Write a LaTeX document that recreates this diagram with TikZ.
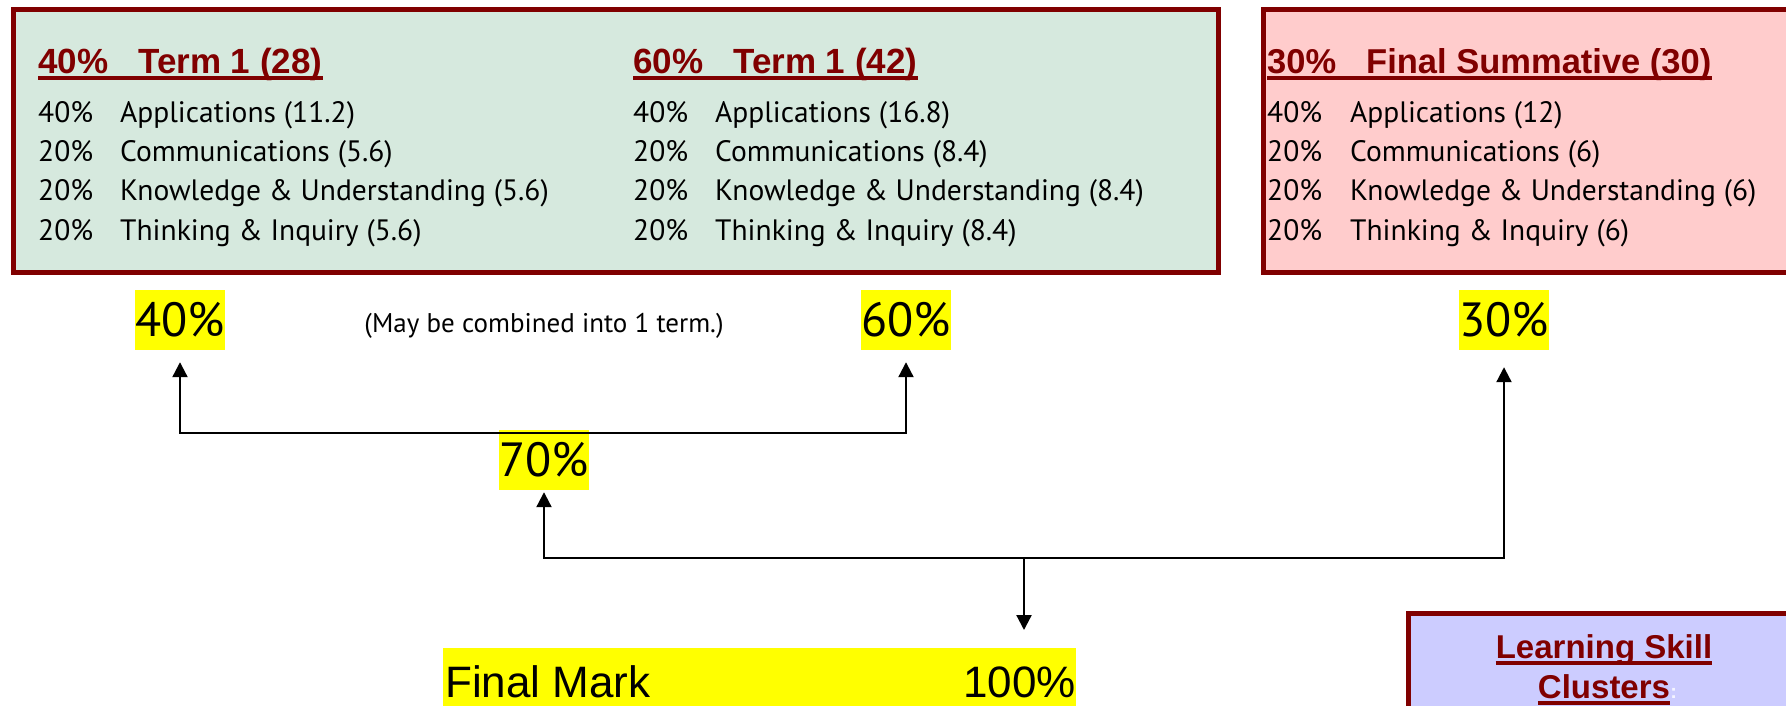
\documentclass[tikz,border=0pt]{standalone}
\usepackage{fontspec}
\setmainfont{PT Sans}
\newfontfamily\arialf{Liberation Sans}
\usetikzlibrary{arrows.meta}
\definecolor{bordred}{RGB}{128,0,0}
\definecolor{greenfill}{RGB}{214,233,222}
\definecolor{pinkfill}{RGB}{255,204,204}
\definecolor{lavfill}{RGB}{204,204,255}
\definecolor{hiyellow}{RGB}{255,255,0}
\tikzset{
  panel/.style={draw=bordred, line width=5pt, anchor=north west, inner sep=0pt},
  head/.style={font=\arialf\bfseries\fontsize{35}{40}\selectfont, text=bordred, inner sep=0pt, anchor=base west},
  uline/.style={draw=bordred, line width=4pt},
  row/.style={font=\fontsize{29.5}{34}\selectfont, inner sep=0pt, anchor=base west},
  hl/.style={fill=hiyellow, inner sep=0pt, minimum height=60pt, font=\fontsize{48}{52}\selectfont},
  conn/.style={line width=2.2pt, draw=black},
  tip/.style={-{Triangle[width=15pt,length=15pt]}},
  tips/.style={{Triangle[width=15pt,length=15pt]}-{Triangle[width=15pt,length=15pt]}}
}
\begin{document}
\begin{tikzpicture}[x=1pt,y=-1pt]
\useasboundingbox (0,0) rectangle (1786,705);
\clip (0,0) rectangle (1786,705);

% panels
\node[panel, fill=greenfill, minimum width=1205pt, minimum height=263pt] (gbox) at (10.5,6.5) {};
\node[panel, fill=pinkfill, minimum width=560pt, minimum height=263pt] (rbox) at (1260.5,6.5) {};
\node[panel, fill=lavfill, minimum width=400pt, minimum height=120pt] (lbox) at (1405.5,610.5) {};

% headings
\node[head] (h1) at (38,73) {40\%\hspace{30pt}Term 1 (28)};
\node[head] (h2) at (633,73) {60\%\hspace{30pt}Term 1 (42)};
\node[head, font=\arialf\bfseries\fontsize{34.5}{40}\selectfont] (h3) at (1267,73) {30\%\hspace{30pt}Final Summative (30)};
\foreach \h in {h1,h2,h3}
  \draw[uline] ([yshift=-5pt]\h.base west) -- ([yshift=-5pt]\h.base east);

% rows column 1
\node[row] (a1p) at (38,122) {40\%};  \node[row] (a1t) at (120,122) {Applications (11.2)};
\node[row] (a2p) at (38,161) {20\%};  \node[row] (a2t) at (120,161) {Communications (5.6)};
\node[row] (a3p) at (38,200) {20\%};  \node[row] (a3t) at (120,200) {Knowledge \& Understanding (5.6)};
\node[row] (a4p) at (38,240) {20\%};  \node[row] (a4t) at (120,240) {Thinking \& Inquiry (5.6)};
% rows column 2
\node[row] (b1p) at (633,122) {40\%};  \node[row] (b1t) at (715,122) {Applications (16.8)};
\node[row] (b2p) at (633,161) {20\%};  \node[row] (b2t) at (715,161) {Communications (8.4)};
\node[row] (b3p) at (633,200) {20\%};  \node[row] (b3t) at (715,200) {Knowledge \& Understanding (8.4)};
\node[row] (b4p) at (633,240) {20\%};  \node[row] (b4t) at (715,240) {Thinking \& Inquiry (8.4)};
% rows column 3
\node[row] (c1p) at (1267,122) {40\%};  \node[row] (c1t) at (1350,122) {Applications (12)};
\node[row] (c2p) at (1267,161) {20\%};  \node[row] (c2t) at (1350,161) {Communications (6)};
\node[row] (c3p) at (1267,200) {20\%};  \node[row] (c3t) at (1350,200) {Knowledge \& Understanding (6)};
\node[row] (c4p) at (1267,240) {20\%};  \node[row] (c4t) at (1350,240) {Thinking \& Inquiry (6)};

% yellow labels
\node[hl, minimum width=87pt] (l40) at (180,320) {40\%};
\node[hl, minimum width=90pt] (l60) at (906,320) {60\%};
\node[hl, minimum width=88pt] (l30) at (1504,320) {30\%};
\node[hl, minimum width=80pt] (l70) at (544,460) {70\%};
\node[font=\fontsize{27}{30}\selectfont, inner sep=0pt] (note) at (544,326) {(May be combined into 1 term.)};

% final mark
\node[fill=hiyellow, anchor=north west, minimum width=633pt, minimum height=70pt, inner sep=0pt] (final) at (443,648) {};
\node[font=\arialf\fontsize{44}{48}\selectfont, inner sep=0pt, anchor=base west] (fm) at (445,697) {Final Mark};
\node[font=\arialf\fontsize{44}{48}\selectfont, inner sep=0pt, anchor=base east] (fp) at (1076,697) {100\%};

% learning skill
\node[font=\arialf\bfseries\fontsize{33}{36}\selectfont, text=bordred, inner sep=0pt, anchor=base] (ls1) at (1604,658) {Learning Skill};
\node[font=\arialf\bfseries\fontsize{33}{36}\selectfont, text=bordred, inner sep=0pt, anchor=base] (ls2) at (1604,698) {Clusters};
\node[font=\arialf\bfseries\fontsize{20}{24}\selectfont, text=white!80!lavfill, inner sep=0pt, anchor=base west] (ls3) at (ls2.base east) {:};
\draw[uline] ([yshift=-5pt]ls1.base west) -- ([yshift=-5pt]ls1.base east);
\draw[uline] ([yshift=-5pt]ls2.base west) -- ([yshift=-5pt]ls2.base east);

% connectors
\draw[conn, tips, shorten <=12pt, shorten >=12pt] (l40.south) |- ([yshift=-3pt]l70.north) -| (l60.south);
\coordinate (j2) at (1024,558);
\draw[conn, tips, shorten <=2pt, shorten >=17pt] (l70.south) |- (j2) -| (l30.south);
\draw[conn, tip, shorten >=18pt] (j2) -- (j2 |- final.north);
\end{tikzpicture}
\end{document}
